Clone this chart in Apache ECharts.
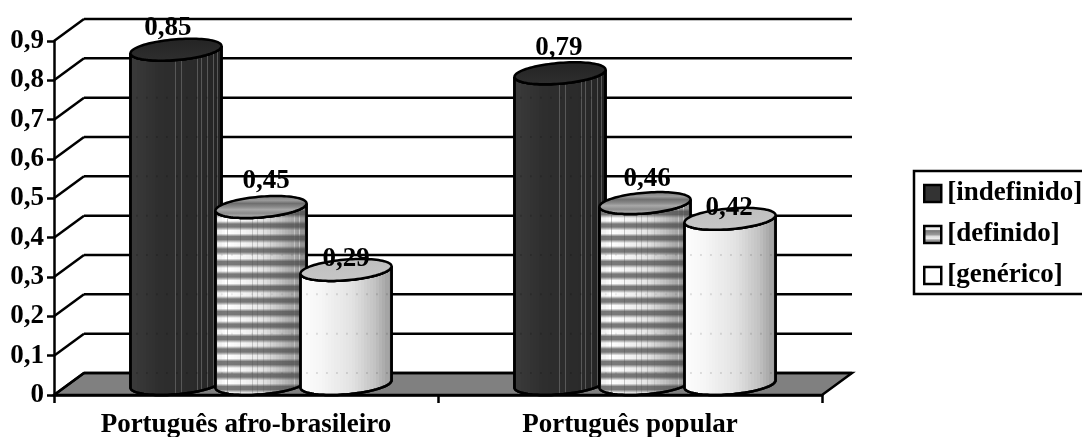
<!DOCTYPE html>
<html>
<head>
<meta charset="utf-8">
<style>html,body{margin:0;padding:0;background:#fff;overflow:hidden}#c{width:1082px;height:437px}</style>
<script src="https://cdn.jsdelivr.net/npm/echarts@6/dist/echarts.min.js"></script>
</head>
<body>
<div id="c"></div>
<script>
// Values
const categories = ['Português afro-brasileiro', 'Português popular'];
const indefinido = [0.85, 0.79];
const definido = [0.45, 0.46];
const generico = [0.29, 0.42];
const gridValues = [0, 0.1, 0.2, 0.3, 0.4, 0.5, 0.6, 0.7, 0.8, 0.9];

// 3D box geometry, in pixels
const DEPTH_X = 30, DEPTH_Y = 22;
const CYL_A = 43;
const FONT = '"Liberation Serif", "Times New Roman", serif';
const INK = '#000';

const level = g => { const v = Math.round(g); return 'rgb(' + v + ',' + v + ',' + v + ')'; };

// Stepped left-to-right shading with thin vertical highlights
function bandedStops(shade, lines, lineShade, lineWidth) {
  const edges = [];
  const bands = 30;
  for (let i = 0; i <= bands; i++) edges.push(i / bands);
  lines.forEach(p => { edges.push(p); edges.push(p + lineWidth); });
  const uniq = Array.from(new Set(edges.map(e => +e.toFixed(4)))).sort((a, b) => a - b);
  const stops = [];
  for (let i = 0; i < uniq.length - 1; i++) {
    const a = uniq[i], b = uniq[i + 1];
    const mid = (a + b) / 2;
    const isLine = lines.some(p => mid >= p && mid <= p + lineWidth);
    const c = level(isLine ? lineShade(mid) : shade(Math.floor(mid * bands) / bands));
    stops.push({ offset: a, color: c }, { offset: b, color: c });
  }
  return stops;
}

const lerp = (pts, x) => {
  for (let i = 0; i < pts.length - 1; i++) {
    if (x <= pts[i + 1][0]) {
      const f = (x - pts[i][0]) / (pts[i + 1][0] - pts[i][0]);
      return pts[i][1] + (pts[i + 1][1] - pts[i][1]) * f;
    }
  }
  return pts[pts.length - 1][1];
};

const darkLines = [0.09, 0.145, 0.18, 0.44, 0.49, 0.56, 0.73, 0.78, 0.84, 0.91, 0.95];
const midLines = [0.13, 0.27, 0.4, 0.46, 0.52, 0.6, 0.66, 0.72, 0.78, 0.86, 0.92];

const styles = {
  dark: {
    body: bandedStops(x => lerp([[0, 58], [0.3, 46], [0.75, 42], [1, 34]], x), darkLines, x => 88, 0.007),
    stripes: false,
    top: [{ offset: 0, color: '#242424' }, { offset: 1, color: '#2e2e2e' }],
    tick: 'rgba(0,0,0,0.3)'
  },
  striped: {
    body: bandedStops(x => lerp([[0, 235], [0.1, 255], [0.5, 230], [1, 135]], x), midLines, x => 195, 0.008),
    stripes: true,
    top: [
      { offset: 0, color: '#7d7d7d' }, { offset: 0.2, color: '#9a9a9a' },
      { offset: 0.34, color: '#6f6f6f' }, { offset: 0.5, color: '#8a8a8a' },
      { offset: 0.62, color: '#a8a8a8' }, { offset: 0.78, color: '#8c8c8c' },
      { offset: 1, color: '#b8b8b8' }
    ],
    tick: 'rgba(0,0,0,0.12)'
  },
  plain: {
    body: bandedStops(x => lerp([[0, 252], [0.2, 246], [0.55, 226], [0.8, 195], [1, 150]], x), [], x => 200, 0.006),
    stripes: false,
    top: [{ offset: 0, color: '#bfbfbf' }, { offset: 1, color: '#c6c6c6' }],
    tick: 'rgba(0,0,0,0.22)'
  }
};

// Offsets for data labels that sit off their cylinder's centre
const labelShift = {
  '0,85': [-8, -22], '0,45': [5, -26], '0,29': [0, -11],
  '0,79': [-1, -25], '0,46': [2, -24], '0,42': [-1, -11]
};

const decimal = v => String(v).replace('.', ',');

// Back wall lines, side wall diagonals and the floor
function renderWalls(params, api) {
  const rect = params.coordSys;
  const v = api.value(0);
  const y = api.coord([0, v])[1];
  const xl = rect.x, xr = rect.x + rect.width;
  const line = { stroke: INK, lineWidth: 2.5 };
  const children = [];
  if (v === 0) {
    children.push({
      type: 'polygon',
      shape: { points: [[xl, y], [xl + DEPTH_X, y - DEPTH_Y], [xr + DEPTH_X, y - DEPTH_Y], [xr, y]] },
      style: { fill: '#808080', stroke: INK, lineWidth: 2.5 }
    });
  }
  children.push(
    { type: 'line', shape: { x1: xl, y1: y, x2: xl + DEPTH_X, y2: y - DEPTH_Y }, style: line },
    { type: 'line', shape: { x1: xl + DEPTH_X, y1: y - DEPTH_Y, x2: xr + DEPTH_X, y2: y - DEPTH_Y }, style: line }
  );
  return { type: 'group', children };
}

// One upright cylinder standing halfway into the depth of the box
function cylinderRenderer(slot, look) {
  return function (params, api) {
    const cat = api.value(0);
    const val = api.value(1);
    const step = api.size([1, 0])[0] * 0.2214;
    const base = api.coord([cat, 0]);
    const head = api.coord([cat, val]);
    const b = DEPTH_X / 2, c = DEPTH_Y / 2;
    const cx = base[0] + slot * step + b;
    const yBase = base[1] - c;
    const yTop = head[1] - c;
    const t0 = Math.atan2(b, CYL_A);
    const at = (t, cy) => [cx + CYL_A * Math.cos(t) + b * Math.sin(t), cy - c * Math.sin(t)];
    const N = 48;
    const lower = [], upper = [], ring = [];
    for (let i = 0; i <= N; i++) {
      const t = t0 + Math.PI + (Math.PI * i) / N;
      lower.push(at(t, yBase));
      upper.push(at(t, yTop));
    }
    for (let i = 0; i < 96; i++) ring.push(at((Math.PI * 2 * i) / 96, yTop));
    const outline = lower.concat(upper.slice().reverse());
    const width = Math.sqrt(CYL_A * CYL_A + b * b);
    const children = [{
      type: 'polygon',
      shape: { points: outline },
      style: {
        fill: new echarts.graphic.LinearGradient(cx - width, 0, cx + width, 0, look.body, true),
        stroke: INK, lineWidth: 2.5
      }
    }];
    if (look.stripes) {
      const period = 12.5, y0 = yTop - c, y1 = yBase + c + 1;
      const stops = [];
      for (let y = y1; y > y0; y -= period) {
        const o = p => Math.min(1, Math.max(0, (p - y0) / (y1 - y0)));
        stops.unshift(
          { offset: o(y - 12.5), color: 'rgba(70,70,70,0)' },
          { offset: o(y - 9.5), color: 'rgba(70,70,70,0.72)' },
          { offset: o(y - 6.5), color: 'rgba(70,70,70,0.72)' },
          { offset: o(y - 3), color: 'rgba(70,70,70,0)' },
          { offset: o(y), color: 'rgba(70,70,70,0)' }
        );
      }
      children.push({
        type: 'polygon',
        shape: { points: outline },
        style: { fill: new echarts.graphic.LinearGradient(0, y0, 0, y1, stops, true) }
      });
    }
    // Wall lines showing faintly through the cylinder
    gridValues.forEach(g => {
      const gy = api.coord([cat, g])[1] - DEPTH_Y;
      if (gy > yTop + c + 2 && gy < yBase + 6) {
        children.push({
          type: 'line',
          shape: { x1: cx - width + 6, y1: gy, x2: cx + width - 2, y2: gy },
          style: { stroke: look.tick, lineWidth: 2, lineDash: [1, 9] }
        });
      }
    });
    children.push({
      type: 'polygon',
      shape: { points: outline },
      style: { fill: 'none', stroke: INK, lineWidth: 2.5 }
    });
    children.push({
      type: 'polygon',
      shape: { points: ring },
      style: {
        fill: new echarts.graphic.LinearGradient(0, yTop - c, 0, yTop + c, look.top, true),
        stroke: INK, lineWidth: 2.5
      }
    });
    const text = decimal(val);
    const shift = labelShift[text];
    children.push({
      type: 'text',
      z2: 100,
      style: {
        x: cx + shift[0], y: yTop + shift[1], text,
        fill: INK, font: 'bold 27px ' + FONT, align: 'center', verticalAlign: 'middle'
      }
    });
    return { type: 'group', children };
  };
}

const cylinderSeries = (name, values, slot, look, z) => ({
  name, type: 'custom', coordinateSystem: 'cartesian2d', z,
  clip: false, silent: true,
  data: values.map((v, i) => [i, v]),
  renderItem: cylinderRenderer(slot, look)
});

const chart = echarts.init(document.getElementById('c'), null, { renderer: 'canvas' });
chart.setOption({
  animation: false,
  backgroundColor: '#fff',
  grid: { left: 54, right: 260, top: 41, bottom: 42, outerBoundsMode: 'none' },
  xAxis: {
    type: 'category', data: categories, z: 3,
    axisLine: { lineStyle: { color: INK, width: 2.5 } },
    axisTick: { show: true, length: 8, lineStyle: { color: INK, width: 2.5 } },
    axisLabel: { color: INK, fontFamily: FONT, fontWeight: 'bold', fontSize: 27, margin: 17 },
    splitLine: { show: false }
  },
  yAxis: {
    type: 'value', min: 0, max: 0.9, interval: 0.1, z: 3,
    axisLine: { show: true, lineStyle: { color: INK, width: 2.5 } },
    axisTick: { show: true, length: 7, lineStyle: { color: INK, width: 2.5 } },
    axisLabel: {
      color: INK, fontFamily: FONT, fontWeight: 'bold', fontSize: 27, margin: 10,
      formatter: v => decimal(+v.toFixed(1))
    },
    splitLine: { show: false }
  },
  legend: {
    orient: 'vertical', left: 914, top: 171, padding: [9, 10, 5, 9],
    itemWidth: 17, itemHeight: 17, itemGap: 14,
    borderColor: INK, borderWidth: 2.5, selectedMode: false,
    textStyle: { color: INK, fontFamily: FONT, fontWeight: 'bold', fontSize: 27, padding: [0, 0, 0, 1] },
    data: [
      { name: '[indefinido]', icon: 'rect', itemStyle: { color: '#333', borderColor: INK, borderWidth: 2.5 } },
      {
        name: '[definido]', icon: 'rect',
        itemStyle: {
          color: new echarts.graphic.LinearGradient(0, 0, 0, 1, [
            { offset: 0, color: '#eee' }, { offset: 0.25, color: '#eee' },
            { offset: 0.3, color: '#777' }, { offset: 0.5, color: '#999' },
            { offset: 0.6, color: '#ddd' }, { offset: 0.72, color: '#eee' },
            { offset: 0.78, color: '#999' }, { offset: 1, color: '#999' }
          ]),
          borderColor: INK, borderWidth: 2.5
        }
      },
      { name: '[genérico]', icon: 'rect', itemStyle: { color: '#fff', borderColor: INK, borderWidth: 2.5 } }
    ]
  },
  series: [
    {
      name: 'parede', type: 'custom', coordinateSystem: 'cartesian2d', z: 1,
      clip: false, silent: true,
      encode: { y: 0 },
      data: gridValues.map(v => [v]),
      renderItem: renderWalls
    },
    cylinderSeries('[indefinido]', indefinido, -1, styles.dark, 4),
    cylinderSeries('[definido]', definido, 0, styles.striped, 5),
    cylinderSeries('[genérico]', generico, 1, styles.plain, 6)
  ]
});
</script>
</body>
</html>
